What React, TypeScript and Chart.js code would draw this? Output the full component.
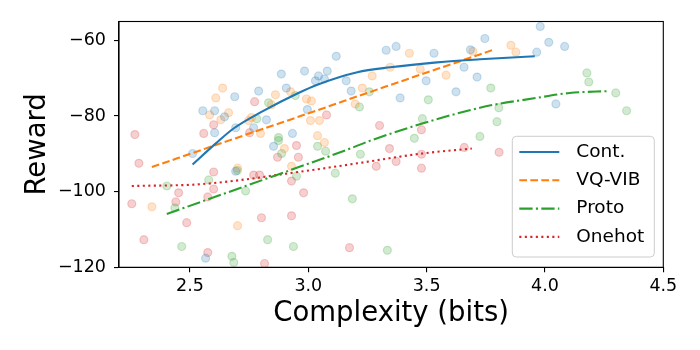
import React, { useEffect, useRef } from 'react';
import { Chart, registerables } from 'chart.js';

Chart.register(...registerables);

const seriesNames = ['Cont.', 'VQ-VIB', 'Proto', 'Onehot'];
const seriesRGB = ['31,119,180', '255,127,14', '44,160,44', '214,39,40'];
const seriesDash: number[][] = [[], [7.7, 3.3], [13.3, 3.3, 2.1, 3.3], [2.1, 3.4]];

const contPtsX = [3.98, 3.746, 4.016, 4.083, 3.965, 3.685, 3.329, 3.371, 3.118, 3.531, 2.984, 3.043, 3.03, 3.068, 3.08, 3.16, 3.181, 3.498, 3.388, 3.624, 3.658, 3.713, 2.996, 2.933, 2.886, 2.907, 2.79, 2.689, 2.554, 2.604, 2.646, 2.823, 2.693, 2.604, 2.769, 2.853, 2.511, 2.693, 4.046, 2.566];
const contPtsY = [-56.3, -59.5, -60.5, -61.6, -63.1, -62.5, -62.6, -61.6, -64.2, -63.4, -68.1, -69.4, -70.7, -70.2, -68.1, -70.7, -73.4, -70.7, -75.2, -73.6, -67.1, -69.7, -78.3, -84.6, -68.9, -72.6, -73.4, -74.9, -78.6, -78.6, -80.2, -81.0, -83.1, -84.4, -83.1, -88.0, -89.9, -94.6, -76.8, -117.6];

const vqPtsX = [2.638, 2.609, 2.861, 2.583, 2.63, 2.663, 2.748, 2.76, 2.798, 2.844, 2.925, 3.427, 3.346, 3.473, 3.27, 3.582, 3.228, 2.992, 3.013, 3.198, 3.009, 3.047, 3.039, 3.068, 3.695, 3.856, 3.877, 2.899, 2.929, 2.701, 2.339, 2.701];
const vqPtsY = [-72.6, -75.2, -74.4, -79.7, -81.0, -79.1, -81.2, -80.4, -84.6, -77.0, -73.6, -63.4, -67.1, -67.6, -69.4, -69.2, -72.6, -75.5, -76.0, -76.8, -81.2, -81.2, -85.2, -87.0, -62.9, -61.3, -63.1, -88.6, -93.3, -93.8, -104.0, -109.0];

const protoPtsX = [2.832, 2.782, 2.874, 2.945, 3.258, 3.216, 3.507, 3.482, 3.448, 3.039, 4.177, 4.185, 3.771, 4.299, 3.805, 4.345, 3.797, 3.725, 2.874, 2.887, 2.579, 2.402, 2.735, 2.7, 2.436, 2.828, 2.465, 2.677, 2.685, 3.073, 3.22, 3.114, 2.95, 3.186, 2.937, 3.334];
const protoPtsY = [-76.5, -80.7, -85.7, -74.6, -73.6, -77.6, -75.7, -80.7, -85.9, -88.0, -68.6, -71.0, -72.6, -73.9, -77.8, -78.6, -81.5, -85.4, -86.5, -89.9, -96.9, -98.5, -99.8, -94.4, -104.3, -112.7, -114.5, -117.1, -118.7, -89.3, -90.1, -95.1, -95.9, -101.9, -114.5, -115.5];

const onehotPtsX = [2.267, 2.558, 2.6, 2.773, 2.752, 2.95, 3.077, 3.301, 3.478, 3.343, 3.659, 2.284, 2.6, 2.769, 2.794, 2.452, 2.6, 2.44, 2.575, 2.254, 2.87, 2.929, 2.486, 2.802, 2.929, 2.305, 2.575, 2.815, 2.958, 3.371, 3.287, 3.478, 3.478, 2.98, 3.174, 3.806];
const onehotPtsY = [-84.9, -84.6, -82.3, -76.2, -84.4, -87.8, -79.7, -82.5, -83.6, -88.6, -88.3, -92.5, -94.8, -95.6, -95.6, -100.3, -99.3, -102.7, -101.4, -103.2, -90.9, -97.2, -108.2, -106.9, -106.4, -112.7, -116.1, -119.0, -90.9, -92.0, -93.3, -90.1, -93.8, -100.3, -114.8, -89.6];

const contLineX = [2.511, 2.608, 2.684, 2.802, 2.958, 3.038, 3.207, 3.346, 3.544, 3.725, 3.957];
const contLineY = [-92.8, -87.3, -83.3, -78.9, -73.9, -71.7, -68.4, -67.1, -65.8, -65.0, -64.2];
const vqLineX = [2.339, 2.663, 2.958, 3.346, 3.725, 3.776];
const vqLineY = [-93.5, -86.5, -80.2, -71.8, -63.7, -62.6];
const protoLineX = [2.402, 2.924, 3.177, 3.262, 3.725, 3.965, 4.104, 4.273];
const protoLineY = [-105.9, -94.3, -88.6, -86.5, -77.8, -75.2, -73.9, -73.4];
const onehotLineX = [2.254, 2.55, 2.958, 3.207, 3.482, 3.691];
const onehotLineY = [-98.5, -98.0, -94.8, -92.5, -89.9, -88.6];

const xTicks = [2.5, 3.0, 3.5, 4.0, 4.5];
const yTicks = [-120, -100, -80, -60];
const xLabel = 'Complexity (bits)';
const yLabel = 'Reward';

const FONT = '"DejaVu Sans", sans-serif';

const zip = (xs: number[], ys: number[]) => xs.map((x, i) => ({ x, y: ys[i] }));

const framePlugin = {
  id: 'frameAndLegend',
  afterDraw(chart: any) {
    const { ctx, chartArea: ca } = chart;
    ctx.save();
    ctx.strokeStyle = '#000';
    ctx.lineWidth = 1.1;
    ctx.strokeRect(ca.left, ca.top, ca.right - ca.left, ca.bottom - ca.top);

    const bw = 142;
    const bh = 120.7;
    const bx = ca.right - 9 - bw;
    const by = ca.bottom - 10.3 - bh;
    ctx.beginPath();
    ctx.roundRect(bx, by, bw, bh, 4);
    ctx.fillStyle = 'rgba(255,255,255,0.8)';
    ctx.fill();
    ctx.strokeStyle = '#cccccc';
    ctx.lineWidth = 1;
    ctx.stroke();

    const lines = chart.data.datasets.filter((d: any) => d.type === 'line');
    lines.forEach((d: any, i: number) => {
      const cy = by + 15.7 + i * 28.3;
      ctx.beginPath();
      ctx.setLineDash(d.borderDash || []);
      ctx.strokeStyle = d.borderColor;
      ctx.lineWidth = d.borderWidth;
      ctx.moveTo(bx + 7, cy);
      ctx.lineTo(bx + 47, cy);
      ctx.stroke();
      ctx.setLineDash([]);
      ctx.fillStyle = '#000';
      ctx.font = `18.5px ${FONT}`;
      ctx.textBaseline = 'middle';
      ctx.textAlign = 'left';
      ctx.fillText(d.label, bx + 64, cy);
    });
    ctx.restore();
  },
};

export default function App() {
  const ref = useRef<HTMLCanvasElement | null>(null);

  useEffect(() => {
    document.body.style.margin = '0';
    const canvas = ref.current;
    if (!canvas) return;

    const pts = [zip(contPtsX, contPtsY), zip(vqPtsX, vqPtsY), zip(protoPtsX, protoPtsY), zip(onehotPtsX, onehotPtsY)];
    const lns = [zip(contLineX, contLineY), zip(vqLineX, vqLineY), zip(protoLineX, protoLineY), zip(onehotLineX, onehotLineY)];

    const scatterSets = seriesNames.map((name, i) => ({
      type: 'scatter' as const,
      label: name + ' pts',
      data: pts[i],
      backgroundColor: `rgba(${seriesRGB[i]},0.22)`,
      borderColor: `rgba(${seriesRGB[i]},0.22)`,
      borderWidth: 1.2,
      pointRadius: 4,
      order: 1,
    }));
    const lineSets = seriesNames.map((name, i) => ({
      type: 'line' as const,
      label: name,
      data: lns[i],
      borderColor: `rgb(${seriesRGB[i]})`,
      backgroundColor: `rgb(${seriesRGB[i]})`,
      borderWidth: 2.1,
      borderDash: seriesDash[i],
      pointRadius: 0,
      fill: false,
      cubicInterpolationMode: 'monotone' as const,
      order: 0,
    }));

    const chart = new Chart(canvas, {
      type: 'scatter',
      data: { datasets: [...scatterSets, ...lineSets] as any },
      options: {
        responsive: false,
        animation: false,
        events: [],
        layout: { padding: { top: 21.5, right: 36.7, left: 0, bottom: 0 } },
        plugins: { legend: { display: false }, tooltip: { enabled: false } },
        scales: {
          x: {
            type: 'linear',
            min: 2.2,
            max: 4.5,
            afterBuildTicks: (s: any) => {
              s.ticks = xTicks.map((v) => ({ value: v }));
            },
            afterFit: (s: any) => {
              s.height = 82.7;
            },
            ticks: {
              color: '#000',
              font: { family: FONT, size: 17.5 },
              padding: 4,
              maxRotation: 0,
              autoSkip: false,
              callback: (v: any) => Number(v).toFixed(1),
            },
            grid: { display: true, drawOnChartArea: false, drawTicks: true, tickLength: 5, color: '#000', lineWidth: 1.1 },
            border: { display: true, color: '#000', width: 1.1 },
            title: {
              display: true,
              text: xLabel,
              color: '#000',
              font: { family: FONT, size: 27.5 },
              padding: { top: 0, bottom: 20 },
            },
          },
          y: {
            type: 'linear',
            min: -120,
            max: -55,
            afterBuildTicks: (s: any) => {
              s.ticks = yTicks.map((v) => ({ value: v }));
            },
            afterFit: (s: any) => {
              s.width = 119;
            },
            ticks: {
              color: '#000',
              font: { family: FONT, size: 17.5 },
              padding: 8,
              autoSkip: false,
              callback: (v: any) => (Number(v) < 0 ? '\u2212' + Math.abs(Number(v)) : String(v)),
            },
            grid: { display: true, drawOnChartArea: false, drawTicks: true, tickLength: 5, color: '#000', lineWidth: 1.1 },
            border: { display: true, color: '#000', width: 1.1 },
            title: {
              display: true,
              text: yLabel,
              color: '#000',
              font: { family: FONT, size: 27.5 },
              padding: { top: 21, bottom: 0 },
            },
          },
        },
      },
      plugins: [framePlugin],
    });

    return () => chart.destroy();
  }, []);

  return (
    <div style={{ position: 'absolute', left: 0, top: 0, width: 700, height: 350, background: '#fff' }}>
      <canvas ref={ref} width={700} height={350} style={{ width: 700, height: 350, display: 'block' }} />
    </div>
  );
}
